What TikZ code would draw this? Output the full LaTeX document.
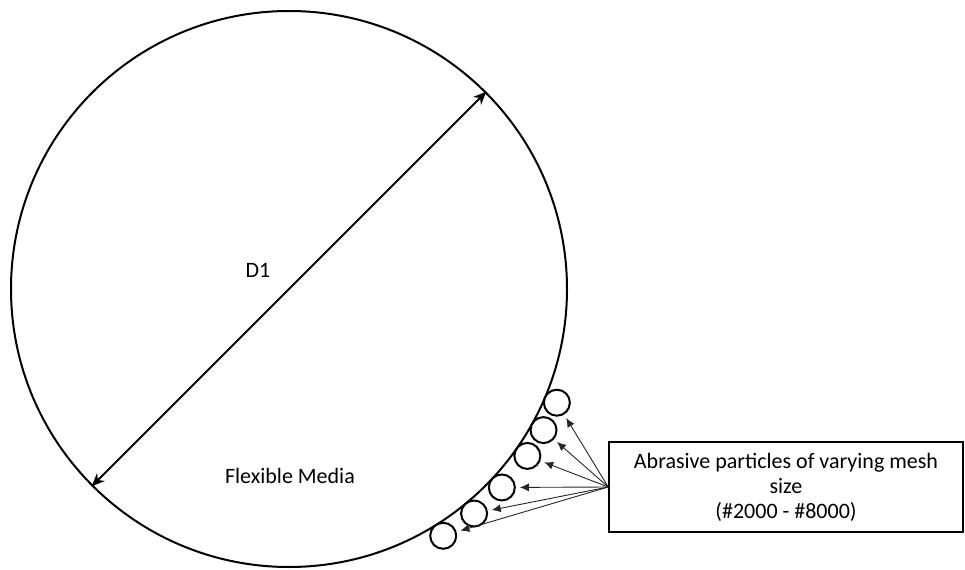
\documentclass[tikz,border=0pt]{standalone}
\usepackage{fontspec}
\setmainfont{Carlito}
\usetikzlibrary{arrows.meta, calc}

\begin{document}
\begin{tikzpicture}[x=0.5pt, y=0.5pt, >=Stealth, every node/.style={font=\fontsize{11}{12.5}\selectfont},
  particle/.style={draw, circle, line width=1pt, fill=white, minimum size=13pt, inner sep=0pt},
  feed/.style={->, line width=0.45pt, black!85, shorten >=2pt, >={Latex[length=4.5pt,width=4pt]}}]
  \useasboundingbox (0,0) rectangle (965,569);
  \node[draw, circle, line width=1pt, minimum size=278pt, inner sep=0pt] (media) at (289,280) {};
  \draw[<->, line width=1pt, >={Stealth[length=6.5pt,width=5.5pt]}] (media.225) -- (media.45);
  \node (d1) at (258,299) {D1};
  \node (flex) at (290,93) {Flexible Media};
  \foreach \a [count=\i] in {-23,-29,-35,-43,-50.5,-58}
    \node[particle] (p\i) at ($(media.center)+(\a:291)$) {};
  \node[draw, line width=0.75pt, minimum width=177pt, minimum height=45pt, align=center] (grit) at (786,82)
    {Abrasive particles of varying mesh\\size\\(\#2000 - \#8000)};
  \foreach \i in {1,...,6}
    \draw[feed] (grit.west) -- (p\i);
\end{tikzpicture}
\end{document}
